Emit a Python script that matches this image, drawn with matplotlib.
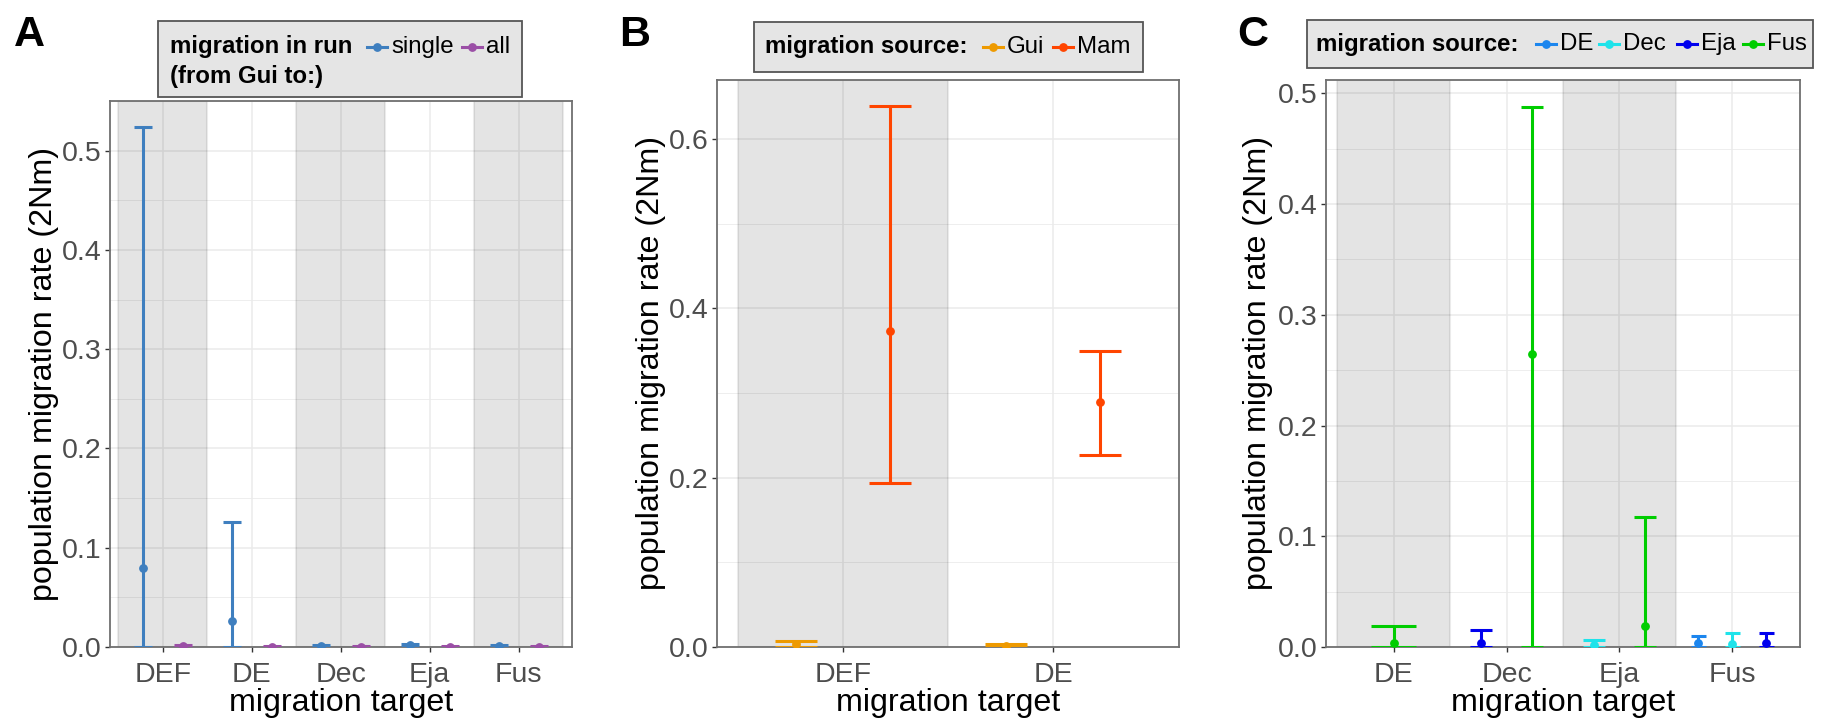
import matplotlib
matplotlib.use("Agg")
import matplotlib.pyplot as plt
from matplotlib.lines import Line2D
from matplotlib.patches import Rectangle
from matplotlib.ticker import MultipleLocator, FormatStrFormatter

plt.rcParams['font.family'] = ['Liberation Sans', 'DejaVu Sans']

# ---- data ----
# panel A: migration from Gui, single vs all
targets_a = ['DEF', 'DE', 'Dec', 'Eja', 'Fus']
single_mean = [0.080, 0.0265, 0.001, 0.002, 0.001]
single_low = [0.0, 0.0, 0.0, 0.0, 0.0]
single_high = [0.524, 0.126, 0.002, 0.003, 0.002]
all_mean = [0.0008, 0.0005, 0.0005, 0.0005, 0.0005]
all_low = [0.0, 0.0, 0.0, 0.0, 0.0]
all_high = [0.002, 0.001, 0.001, 0.001, 0.001]

# panel B: sources Gui / Mam
targets_b = ['DEF', 'DE']
gui_mean = [0.0035, 0.0015]
gui_low = [0.0, 0.0]
gui_high = [0.0075, 0.0035]
mam_mean = [0.373, 0.289]
mam_low = [0.194, 0.227]
mam_high = [0.639, 0.350]

# panel C: sources DE / Dec / Eja / Fus (None = not estimated)
targets_c = ['DE', 'Dec', 'Eja', 'Fus']
de_mean = [None, None, None, 0.004]
de_high = [None, None, None, 0.010]
dec_mean = [None, None, 0.002, 0.003]
dec_high = [None, None, 0.006, 0.0126]
eja_mean = [None, 0.004, None, 0.004]
eja_high = [None, 0.0156, None, 0.013]
fus_mean = [0.0036, 0.265, 0.019, None]
fus_high = [0.0193, 0.4876, 0.117, None]

W, H = 1825, 720
fig = plt.figure(figsize=(W / 100, H / 100), dpi=100)


def axes_px(l, r, t, b):
    return fig.add_axes([l / W, 1 - b / H, (r - l) / W, (b - t) / H])


def draw_panel(ax, targets, groups, shaded, ymax, major):
    ax.set_axisbelow(True)
    for i in shaded:
        ax.axvspan(i - 0.5, i + 0.5, facecolor=(0, 0, 0, 0.105),
                   edgecolor=(0, 0, 0, 0.08), lw=1.5, zorder=1)
    for i in range(len(targets)):
        present = [g for g in groups if g[2][i] is not None]
        n = len(present)
        for k, (name, col, means, lows, highs) in enumerate(present):
            x = i + (k - (n - 1) / 2) * 0.9 / n
            half = 0.2 / n
            lo = lows[i] if lows is not None else 0.0
            hi = highs[i]
            ax.plot([x, x], [lo, hi], color=col, lw=2.2, zorder=3,
                    solid_capstyle='butt')
            ax.hlines([lo, hi], x - half, x + half, color=col, lw=2.2, zorder=3)
            ax.plot([x], [means[i]], 'o', color=col, ms=5.3, zorder=4)
    ax.set_xlim(-0.6, len(targets) - 0.4)
    ax.set_ylim(0, ymax)
    ax.set_xticks(range(len(targets)))
    ax.set_xticklabels(targets)
    ax.yaxis.set_major_locator(MultipleLocator(major))
    ax.yaxis.set_minor_locator(MultipleLocator(major / 2))
    ax.yaxis.set_major_formatter(FormatStrFormatter('%.1f'))
    ax.grid(which='major', color='#EBEBEB', lw=1.1)
    ax.grid(which='minor', axis='y', color='#EBEBEB', lw=0.6)
    ax.tick_params(which='major', length=3.5, width=1.0, color='#333333',
                   labelsize=20.5, labelcolor='#4D4D4D', pad=2.5)
    ax.tick_params(axis='x', which='major', pad=7)
    ax.tick_params(which='minor', length=0)
    for s in ax.spines.values():
        s.set_color('#707070')
        s.set_linewidth(1.3)
    ax.set_xlabel('migration target', fontsize=23.2, va='center')
    ax.set_ylabel('population migration rate (2Nm)', fontsize=23.2, va='center')


def legend_box(x0, x1, y0, y1, titles, title_x, entries):
    fig.patches.append(Rectangle((x0 / W, 1 - y1 / H), (x1 - x0) / W, (y1 - y0) / H,
                                 transform=fig.transFigure, facecolor='#E5E5E5',
                                 edgecolor='#555555', lw=1.3))
    for text, ty in titles:
        fig.text(title_x / W, 1 - ty / H, text, fontsize=17.3, weight='bold',
                 va='center', ha='left')
    for label, col, kx, ky in entries:
        fig.lines.append(Line2D([kx / W, (kx + 20) / W], [1 - ky / H, 1 - ky / H],
                                transform=fig.transFigure, color=col, lw=2.2))
        fig.lines.append(Line2D([(kx + 10) / W], [1 - ky / H], marker='o', ms=5.3,
                                transform=fig.transFigure, color=col))
        fig.text((kx + 24) / W, 1 - ky / H, label, fontsize=17.3, va='center', ha='left')


# ---- panel A ----
ax_a = axes_px(109.6, 572, 101, 647)
groups_a = [('single', '#3F7FBF', single_mean, single_low, single_high),
            ('all', '#9B4FA6', all_mean, all_low, all_high)]
draw_panel(ax_a, targets_a, groups_a, [0, 2, 4], 0.55, 0.1)
ax_a.yaxis.set_label_coords(-0.142, 0.5)
ax_a.xaxis.set_label_coords(0.5, -0.102)

# ---- panel B ----
ax_b = axes_px(717, 1179, 80, 647)
groups_b = [('Gui', '#EE9A00', gui_mean, gui_low, gui_high),
            ('Mam', '#FF4500', mam_mean, mam_low, mam_high)]
draw_panel(ax_b, targets_b, groups_b, [0], 0.67, 0.2)
ax_b.yaxis.set_label_coords(-0.143, 0.5)
ax_b.xaxis.set_label_coords(0.5, -0.098)

# ---- panel C ----
ax_c = axes_px(1326, 1800, 80, 647)
groups_c = [('DE', '#1C86EE', de_mean, None, de_high),
            ('Dec', '#1EE3EA', dec_mean, None, dec_high),
            ('Eja', '#0000EE', eja_mean, None, eja_high),
            ('Fus', '#00CD00', fus_mean, None, fus_high)]
draw_panel(ax_c, targets_c, groups_c, [0, 2], 0.512, 0.1)
ax_c.yaxis.set_label_coords(-0.1445, 0.5)
ax_c.xaxis.set_label_coords(0.5, -0.098)

# ---- legends ----
legend_box(158, 522, 21, 97, [('migration in run', 47), ('(from Gui to:)', 77)], 170,
           [(g[0], g[1], kx, 47) for g, kx in zip(groups_a, [367, 462])])
legend_box(754, 1143, 22, 72, [('migration source:', 47)], 765,
           [(g[0], g[1], kx, 47) for g, kx in zip(groups_b, [983, 1053])])
legend_box(1307, 1813, 20, 68, [('migration source:', 44)], 1316,
           [(g[0], g[1], kx, 44) for g, kx in zip(groups_c, [1536, 1599, 1677, 1743])])

# ---- panel letters ----
for letter, lx in [('A', 14), ('B', 619), ('C', 1237)]:
    fig.text(lx / W, 1 - 46 / H, letter, fontsize=31, weight='bold', va='baseline')

fig.savefig('out.png', dpi=100)
